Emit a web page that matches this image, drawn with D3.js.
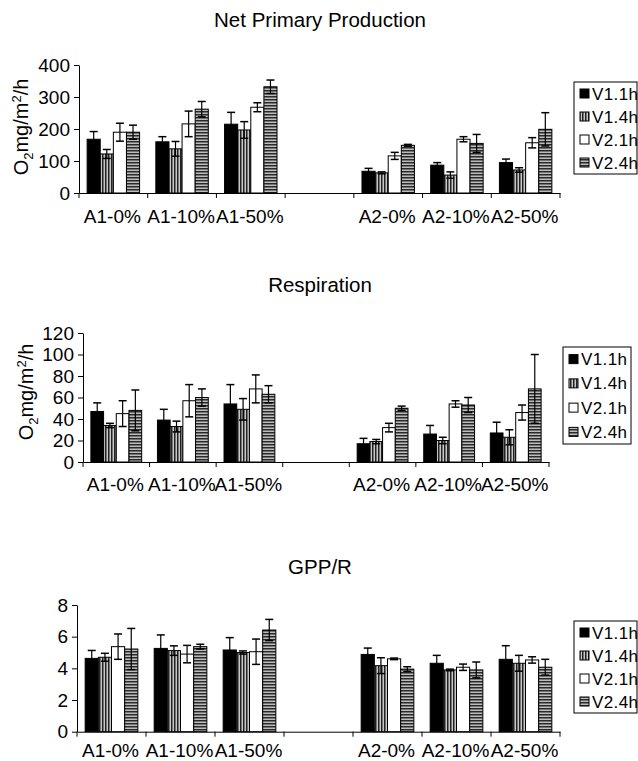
<!DOCTYPE html>
<html><head><meta charset="utf-8">
<script src="https://cdn.jsdelivr.net/npm/d3@7"></script>
<style>body{margin:0;background:#fff}svg{display:block;font-family:"Liberation Sans",Arial,sans-serif}</style>
</head><body><svg id="c" width="638" height="761"></svg>
<script>
const categories = ["A1-0%","A1-10%","A1-50%","A2-0%","A2-10%","A2-50%"];
const series = ["V1.1h","V1.4h","V2.1h","V2.4h"];

const nppV11 = [168,160,215,68,87,95];
const nppV14 = [122,138,197,63,56,72];
const nppV21 = [190,216,268,116,168,157];
const nppV24 = [190,262,332,149,155,199];
const nppE11 = [24,16,37,9,8,11];
const nppE14 = [14,23,26,3,10,7];
const nppE21 = [28,40,14,11,8,16];
const nppE24 = [22,24,21,3,28,52];
const nppTicks = [0,100,200,300,400];

const resV11 = [47,39,54,17,26,27];
const resV14 = [34,33,49,19,20,23];
const resV21 = [45,57,68,32,54,46];
const resV24 = [48,60,63,50,53,68];
const resE11 = [8,10,18,5,8,10];
const resE14 = [2,5,10,2,3,7];
const resE21 = [12,15,13,4,3,7];
const resE24 = [19,8,8,2,7,32];
const resTicks = [0,20,40,60,80,100,120];

const gppV11 = [4.63,5.26,5.16,4.88,4.32,4.57];
const gppV14 = [4.7,5.12,5.0,4.17,3.9,4.32];
const gppV21 = [5.37,4.9,5.05,4.6,4.07,4.53];
const gppV24 = [5.22,5.37,6.42,3.95,3.9,4.07];
const gppE11 = [0.5,0.85,0.78,0.4,0.5,0.86];
const gppE14 = [0.25,0.3,0.1,0.5,0.05,0.5];
const gppE21 = [0.8,0.55,0.8,0.05,0.2,0.2];
const gppE24 = [1.3,0.15,0.67,0.15,0.5,0.5];
const gppTicks = [0,2,4,6,8];

const svg = d3.select("#c");
const defs = svg.append("defs");
const pv = defs.append("pattern").attr("id","pv").attr("patternUnits","userSpaceOnUse").attr("width",3).attr("height",3);
pv.append("rect").attr("width",3).attr("height",3).attr("fill","#c8c8c8");
pv.append("rect").attr("width",1.5).attr("height",3).attr("fill","#222");
const ph = defs.append("pattern").attr("id","ph").attr("patternUnits","userSpaceOnUse").attr("width",3).attr("height",3);
ph.append("rect").attr("width",3).attr("height",3).attr("fill","#bdbdbd");
ph.append("rect").attr("width",3).attr("height",1.5).attr("fill","#2a2a2a");
const fills = {"V1.1h":"#000","V1.4h":"url(#pv)","V2.1h":"#fff","V2.4h":"url(#ph)"};

const domain = ["A1-0%","A1-10%","A1-50%","gap","A2-0%","A2-10%","A2-50%"];

function panel(o){
  const g = svg.append("g");
  const x = d3.scaleBand().domain(domain).range(o.xr).padding(0);
  const xs = d3.scaleBand().domain(series).range([0,x.bandwidth()]).paddingInner(0).paddingOuter(0.62);
  const y = d3.scaleLinear().domain(o.yd).range(o.yr);
  g.append("text").attr("x",320).attr("y",o.ty).attr("text-anchor","middle").attr("font-size",20.5).text(o.title);
  const ya = g.append("g").attr("transform",`translate(${o.xr[0]},0)`)
    .call(d3.axisLeft(y).tickValues(o.ticks).tickSize(5).tickSizeOuter(0).tickPadding(4));
  ya.selectAll("text").attr("font-size",19).attr("fill","#000").attr("font-family","Liberation Sans, Arial, sans-serif");
  ya.selectAll("line,path").attr("stroke","#000");
  const vals = o.vals, errs = o.errs;
  series.forEach((s,si)=>{
    categories.forEach((c,ci)=>{
      const v = vals[si][ci], e = errs[si][ci];
      const bx = x(c)+xs(s), bw = xs.bandwidth();
      g.append("rect").attr("x",bx).attr("y",y(v)).attr("width",bw).attr("height",y(0)-y(v))
        .attr("fill",fills[s]).attr("stroke","#000").attr("stroke-width",1);
      const cx = bx+bw/2;
      g.append("line").attr("x1",cx).attr("x2",cx).attr("y1",y(v+e)).attr("y2",y(v-e)).attr("stroke","#000").attr("stroke-width",1.2);
      [v+e,v-e].forEach(t=>g.append("line").attr("x1",cx-4).attr("x2",cx+4).attr("y1",y(t)).attr("y2",y(t)).attr("stroke","#000").attr("stroke-width",1.5));
    });
  });
  const xa = g.append("g").attr("transform",`translate(0,${o.yr[0]})`)
    .call(d3.axisBottom(x).tickSize(0).tickFormat(""));
  xa.select("path").attr("stroke","#000");
  const bounds = domain.map(d=>x(d)).concat([o.xr[1]]);
  xa.selectAll(".bt").data(bounds).enter().append("line").attr("class","bt")
    .attr("x1",d=>d).attr("x2",d=>d).attr("y1",0).attr("y2",5).attr("stroke","#000");
  g.selectAll(".xl").data(categories).enter().append("text").attr("class","xl")
    .attr("x",d=>x(d)+x.bandwidth()/2-1).attr("y",o.yr[0]+o.lab).attr("text-anchor","middle").attr("font-size",19).text(d=>d);
  if(o.ylab){
    const t = g.append("text").attr("transform",`translate(${o.ylab[0]},${o.ylab[1]}) rotate(-90)`)
      .attr("text-anchor","middle").attr("font-size",20);
    t.append("tspan").text("O");
    t.append("tspan").attr("font-size",13).attr("dy",5).text("2");
    t.append("tspan").attr("dy",-5).text("mg/m");
    t.append("tspan").attr("font-size",13).attr("dy",-7).text("2");
    t.append("tspan").attr("dy",7).text("/h");
  }
  const L = o.leg;
  const lg = g.append("g");
  lg.append("rect").attr("x",L[0]).attr("y",L[1]).attr("width",L[2]).attr("height",L[3]).attr("fill","#fff").attr("stroke","#000");
  const step = L[3]/4;
  series.forEach((s,i)=>{
    const cy = L[1]+step*(i+0.5);
    lg.append("rect").attr("x",L[0]+6).attr("y",cy-4.5).attr("width",9).attr("height",9).attr("fill",fills[s]).attr("stroke","#000");
    lg.append("text").attr("x",L[0]+18).attr("y",cy+6).attr("font-size",17).attr("letter-spacing",0.4).text(s);
  });
}

panel({title:"Net Primary Production",ty:27,xr:[79,560],yd:[0,400],yr:[193,65],ticks:nppTicks,
  vals:[nppV11,nppV14,nppV21,nppV24],errs:[nppE11,nppE14,nppE21,nppE24],lab:30,ylab:[28,127],leg:[574,82,63,92]});
panel({title:"Respiration",ty:292,xr:[83,549],yd:[0,120],yr:[462,333],ticks:resTicks,
  vals:[resV11,resV14,resV21,resV24],errs:[resE11,resE14,resE21,resE24],lab:29,ylab:[33,392],leg:[563,347,68,97]});
panel({title:"GPP/R",ty:574,xr:[77,560],yd:[0,8],yr:[731.7,605],ticks:gppTicks,
  vals:[gppV11,gppV14,gppV21,gppV24],errs:[gppE11,gppE14,gppE21,gppE24],lab:25,ylab:null,leg:[574,621,63,92]});
</script></body></html>
